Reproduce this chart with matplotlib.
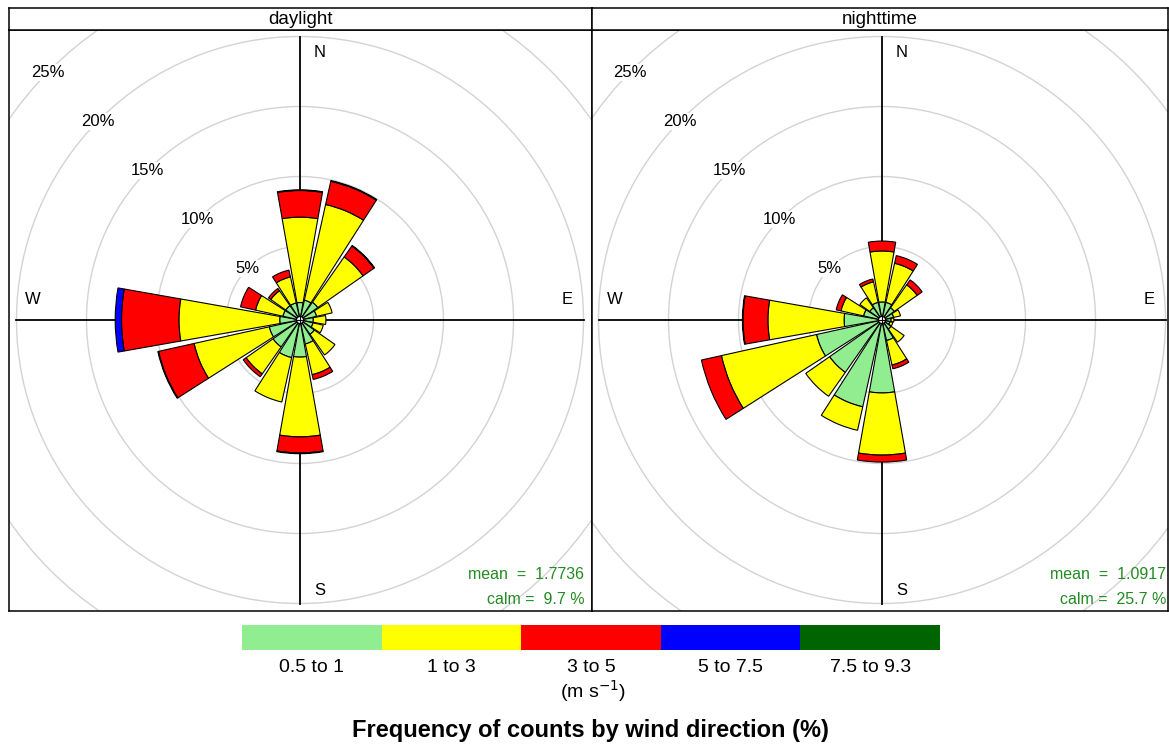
import numpy as np
import matplotlib
matplotlib.use("Agg")
import matplotlib.pyplot as plt
from matplotlib.patches import Wedge, Circle

plt.rcParams["font.family"] = ["Liberation Sans", "DejaVu Sans"]

# wind direction sectors (bearing, degrees clockwise from north)
wd = [0, 22.5, 45, 67.5, 90, 112.5, 135, 157.5,
      180, 202.5, 225, 247.5, 270, 292.5, 315, 337.5]

speed_bins = ["0.5 to 1", "1 to 3", "3 to 5", "5 to 7.5", "7.5 to 9.3"]
bin_colors = ["#90EE90", "#FFFF00", "#FF0000", "#0000FF", "#006400"]

# frequency (%) per sector and speed bin, daylight
day_05_1 = [1.0, 1.2, 1.3, 0.96, 0.7, 0.7, 1.0, 1.5, 2.4, 2.5, 2.1, 2.0, 1.2, 1.0, 1.0, 1.0]
day_1_3 = [6.1, 7.0, 3.95, 1.14, 0.9, 0.75, 1.8, 2.25, 5.7, 3.25, 2.35, 5.5, 7.2, 2.0, 1.3, 1.9]
day_3_5 = [1.9, 1.7, 0.95, 0, 0, 0, 0, 0.35, 1.15, 0, 0.25, 2.6, 4.1, 1.1, 0.2, 0.5]
day_5_75 = [0.05, 0.05, 0.05, 0, 0, 0, 0, 0, 0.05, 0, 0, 0.05, 0.45, 0, 0, 0]
day_75_93 = [0] * 16

# nighttime
night_05_1 = [1.04, 1.04, 0.82, 0.6, 0.4, 0.32, 0.54, 1.25, 4.96, 6.1, 4.32, 4.54, 2.46, 1.1, 0.82, 1.04]
night_1_3 = [3.64, 2.86, 2.0, 0.5, 0.2, 0.22, 1.14, 1.79, 4.44, 1.72, 2.08, 6.96, 5.44, 1.65, 0.86, 1.5]
night_3_5 = [0.71, 0.56, 0.43, 0, 0, 0, 0, 0.28, 0.5, 0, 0, 1.46, 1.78, 0.35, 0, 0.21]
night_5_75 = [0, 0, 0, 0, 0, 0, 0, 0, 0, 0, 0, 0, 0.04, 0, 0, 0]
night_75_93 = [0] * 16

rings = [5, 10, 15, 20, 25]
panels = [
    ("daylight", [day_05_1, day_1_3, day_3_5, day_5_75, day_75_93], "1.7736", "9.7"),
    ("nighttime", [night_05_1, night_1_3, night_3_5, night_5_75, night_75_93], "1.0917", "25.7"),
]

W, H = 1169, 746
S = 14.0      # pixels per percent
OFF = 0.25    # centre hole radius (%)
SECTOR = 20.0  # drawn sector width (deg)

fig = plt.figure(figsize=(W / 100, H / 100), dpi=100)


def fig_rect(x0, y0, x1, y1):
    return [x0 / W, 1 - y1 / H, (x1 - x0) / W, (y1 - y0) / H]


def draw_panel(x0, x1, cx, title, data, mean, calm):
    y0, y1, cy = 30, 611, 320
    ax = fig.add_axes(fig_rect(x0, y0, x1, y1))
    ax.set_xlim((x0 - cx) / S, (x1 - cx) / S)
    ax.set_ylim((cy - y1) / S, (cy - y0) / S)
    ax.set_xticks([])
    ax.set_yticks([])
    for sp in ax.spines.values():
        sp.set_linewidth(1.1)

    # grid circles
    for r in rings:
        ax.add_patch(Circle((0, 0), OFF + r, fill=False, ec="#D3D3D3", lw=1.0, zorder=1))
        a = np.deg2rad(135.5)
        ax.text((OFF + r) * np.cos(a), (OFF + r) * np.sin(a), f"{r}%", ha="center", va="center",
                fontsize=12, zorder=2,
                bbox=dict(boxstyle="square,pad=0.05", fc="white", ec="none"))

    # axis lines
    L = OFF + 20
    ax.plot([-L, L], [0, 0], color="black", lw=1.3, zorder=3)
    ax.plot([0, 0], [-L, L], color="black", lw=1.3, zorder=3)
    ax.text(1.43, 19.1, "N", ha="center", va="center", fontsize=12)
    ax.text(19.1, 1.43, "E", ha="center", va="center", fontsize=12)
    ax.text(1.43, -19.3, "S", ha="center", va="center", fontsize=12)
    ax.text(-19.1, 1.43, "W", ha="center", va="center", fontsize=12)

    # wedges
    for i, b in enumerate(wd):
        t1 = 90 - b - SECTOR / 2
        t2 = 90 - b + SECTOR / 2
        cum = 0.0
        for k, series in enumerate(data):
            v = series[i]
            if v <= 0:
                continue
            r_in = OFF + cum
            cum += v
            r_out = OFF + cum
            ax.add_patch(Wedge((0, 0), r_out, t1, t2, width=r_out - r_in,
                               fc=bin_colors[k], ec="black", lw=0.8, zorder=4))

    ax.add_patch(Circle((0, 0), OFF, fc="white", ec="black", lw=0.8, zorder=5))
    ax.plot([-OFF, OFF], [0, 0], color="black", lw=0.8, zorder=6)
    ax.plot([0, 0], [-OFF, OFF], color="black", lw=0.8, zorder=6)

    ax.text(20.3, -18.2, f"mean  =  {mean}", ha="right", va="center",
            color="forestgreen", fontsize=11.5)
    ax.text(20.3, -20.0, f"calm =  {calm} %", ha="right", va="center",
            color="forestgreen", fontsize=11.5)

    # strip
    sax = fig.add_axes(fig_rect(x0, 8, x1, 30))
    sax.set_xticks([])
    sax.set_yticks([])
    for sp in sax.spines.values():
        sp.set_linewidth(1.1)
    sax.text(0.5, 0.5, title, ha="center", va="center", fontsize=13.5, transform=sax.transAxes)


draw_panel(9, 592, 300, panels[0][0], panels[0][1], panels[0][2], panels[0][3])
draw_panel(592, 1168, 882, panels[1][0], panels[1][1], panels[1][2], panels[1][3])

# key
lx0, lx1, ly0, ly1 = 242, 940, 625, 650
kw = (lx1 - lx0) / len(speed_bins)
for k, (lab, col) in enumerate(zip(speed_bins, bin_colors)):
    kax = fig.add_axes(fig_rect(lx0 + k * kw, ly0, lx0 + (k + 1) * kw, ly1))
    kax.set_facecolor(col)
    kax.set_xticks([])
    kax.set_yticks([])
    for sp in kax.spines.values():
        sp.set_visible(False)
    fig.text((lx0 + (k + 0.5) * kw) / W, 1 - 667 / H, lab, ha="center", va="center", fontsize=14)

fig.text(593 / W, 1 - 691 / H, r"(m s$^{-1}$)", ha="center", va="center", fontsize=14)
fig.text(590 / W, 1 - 730 / H, "Frequency of counts by wind direction (%)", ha="center",
         va="center", fontsize=17, fontweight="bold")

fig.savefig("out.png", dpi=100)
